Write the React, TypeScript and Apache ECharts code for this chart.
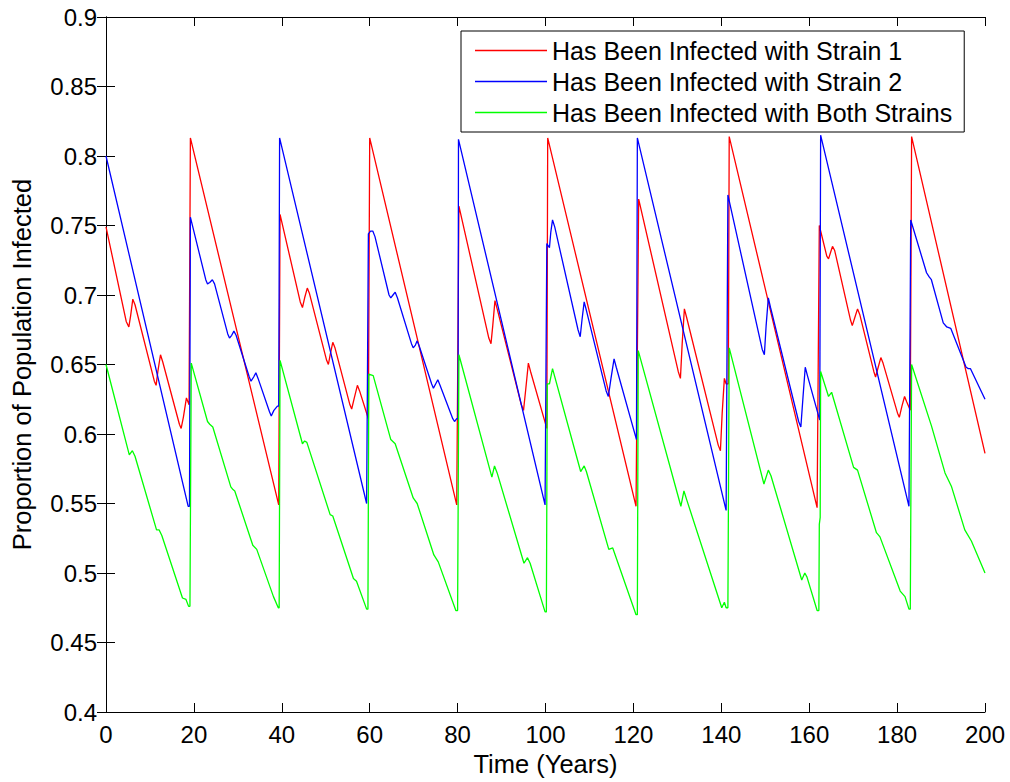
import React, { useEffect, useRef } from "react";
import * as echarts from "echarts";

const xTicks = { min: 0, max: 200, interval: 20 };
const yTicks = { min: 0.4, max: 0.9, interval: 0.05 };

const seriesNames = [
  "Has Been Infected with Strain 1",
  "Has Been Infected with Strain 2",
  "Has Been Infected with Both Strains",
];

const strain1: number[][] = [
  [0, 0.749], [4.6, 0.681], [5.2, 0.677], [5.6, 0.685], [6.1, 0.697], [6.6, 0.693],
  [11.0, 0.638], [11.4, 0.635], [11.8, 0.645], [12.4, 0.657], [12.9, 0.652],
  [16.7, 0.607], [17.1, 0.604], [17.6, 0.612], [18.3, 0.626], [18.9, 0.621],
  [19.2, 0.813], [39.3, 0.549], [39.6, 0.758],
  [44.2, 0.695], [44.7, 0.691], [45.2, 0.698], [45.8, 0.705], [46.3, 0.701],
  [50.2, 0.653], [50.6, 0.650], [51.0, 0.657], [51.6, 0.666], [52.1, 0.662],
  [55.5, 0.621], [55.9, 0.618], [56.5, 0.626], [57.2, 0.635], [57.7, 0.631],
  [59.7, 0.611], [60.0, 0.813], [79.8, 0.549], [80.3, 0.764],
  [87.1, 0.669], [87.6, 0.665], [88.0, 0.678], [88.5, 0.696], [89.0, 0.690],
  [94.5, 0.621], [95.0, 0.617], [95.5, 0.632], [96.1, 0.651], [96.6, 0.645],
  [100.3, 0.604], [100.5, 0.813], [120.6, 0.548], [121.2, 0.769],
  [130.2, 0.645], [130.7, 0.640], [131.1, 0.665], [131.6, 0.690], [132.1, 0.684],
  [139.3, 0.592], [139.8, 0.588], [140.2, 0.615], [140.7, 0.640], [141.1, 0.636],
  [141.6, 0.636], [141.8, 0.814], [161.8, 0.547], [162.3, 0.750],
  [164.0, 0.728], [164.4, 0.726], [164.8, 0.730], [165.3, 0.735], [165.8, 0.732],
  [169.4, 0.682], [169.8, 0.678], [170.4, 0.684], [171.0, 0.690], [171.5, 0.686],
  [174.7, 0.645], [175.1, 0.641], [175.7, 0.648], [176.3, 0.655], [176.8, 0.651],
  [180.1, 0.615], [180.5, 0.612], [181.1, 0.620], [181.7, 0.627], [182.2, 0.623],
  [183.0, 0.617], [183.3, 0.814], [200, 0.586],
];

const strain2: number[][] = [
  [0, 0.8], [18.7, 0.548], [19.0, 0.548], [19.2, 0.756],
  [22.7, 0.711], [23.1, 0.708], [23.6, 0.709], [24.2, 0.711], [24.7, 0.708],
  [27.7, 0.672], [28.1, 0.669], [28.6, 0.671], [29.1, 0.674], [29.6, 0.671],
  [32.6, 0.641], [33.0, 0.638], [33.6, 0.641], [34.1, 0.644], [34.6, 0.640],
  [37.2, 0.616], [37.6, 0.613], [38.2, 0.617], [39.0, 0.620], [39.3, 0.620],
  [39.5, 0.813], [59.3, 0.55], [59.7, 0.744], [60.2, 0.746], [60.7, 0.746], [61.2, 0.742],
  [64.4, 0.700], [64.8, 0.698], [65.3, 0.700], [65.8, 0.702], [66.3, 0.698],
  [69.5, 0.665], [69.9, 0.662], [70.4, 0.664], [70.8, 0.667], [71.3, 0.663],
  [74.1, 0.636], [74.5, 0.633], [75.0, 0.636], [75.5, 0.639], [76.0, 0.635],
  [78.9, 0.611], [79.3, 0.609], [79.8, 0.611], [80.1, 0.611], [80.2, 0.812],
  [99.9, 0.549], [100.3, 0.737], [100.9, 0.734], [101.2, 0.745], [101.6, 0.754], [102.1, 0.749],
  [107.4, 0.675], [107.9, 0.670], [108.3, 0.682], [108.8, 0.695], [109.3, 0.689],
  [113.8, 0.631], [114.3, 0.627], [114.9, 0.640], [115.6, 0.654], [116.1, 0.648],
  [120.7, 0.596], [120.9, 0.813], [141.1, 0.545], [141.5, 0.772],
  [149.3, 0.661], [149.8, 0.657], [150.2, 0.678], [150.7, 0.698], [151.2, 0.691],
  [157.6, 0.609], [158.1, 0.605], [158.6, 0.627], [159.1, 0.648], [159.6, 0.642],
  [162.4, 0.610], [162.6, 0.815], [182.7, 0.548], [183.1, 0.754],
  [186.7, 0.716], [187.3, 0.713], [187.8, 0.711], [190.5, 0.680], [191.3, 0.677],
  [192.2, 0.676], [195.7, 0.648], [196.2, 0.647], [196.7, 0.647], [200, 0.625],
];

const bothStrains: number[][] = [
  [0, 0.65], [5.3, 0.585], [6.0, 0.588], [6.6, 0.584], [11.5, 0.531], [12.1, 0.531],
  [12.7, 0.527], [17.4, 0.482], [18.2, 0.481], [18.8, 0.476], [19.1, 0.476], [19.4, 0.651],
  [23.1, 0.609], [23.6, 0.607], [24.3, 0.605], [28.4, 0.562], [28.9, 0.560], [29.3, 0.559],
  [33.4, 0.520], [34.3, 0.517], [38.1, 0.483], [39.2, 0.475], [39.4, 0.475], [39.6, 0.653],
  [44.7, 0.593], [45.2, 0.595], [45.7, 0.594], [51.0, 0.542], [51.6, 0.541],
  [56.3, 0.496], [57.0, 0.494], [59.3, 0.474], [59.6, 0.474], [59.8, 0.643], [60.8, 0.642],
  [64.8, 0.596], [65.8, 0.593], [69.9, 0.554], [70.8, 0.550], [74.6, 0.513], [75.6, 0.508],
  [79.6, 0.473], [80.0, 0.473], [80.3, 0.657], [87.8, 0.569], [88.4, 0.577], [89.0, 0.572],
  [95.1, 0.507], [95.9, 0.511], [96.5, 0.507], [99.9, 0.472], [100.2, 0.472],
  [100.4, 0.636], [100.9, 0.636], [101.6, 0.647], [108.0, 0.573], [108.8, 0.577],
  [109.3, 0.573], [114.4, 0.517], [115.3, 0.518], [120.6, 0.470], [120.9, 0.470],
  [121.1, 0.660], [130.8, 0.548], [131.5, 0.559], [132.1, 0.553], [140.1, 0.475],
  [140.7, 0.479], [141.1, 0.475], [141.5, 0.475], [141.8, 0.662], [149.7, 0.564],
  [150.7, 0.574], [151.3, 0.570], [158.3, 0.495], [159.0, 0.500], [159.5, 0.497],
  [161.8, 0.473], [162.2, 0.473], [162.3, 0.535], [162.5, 0.540], [162.6, 0.645],
  [164.4, 0.627], [165.1, 0.630], [170.1, 0.576], [171.0, 0.574], [175.3, 0.529],
  [176.1, 0.526], [180.7, 0.487], [181.8, 0.483], [182.7, 0.474], [183.0, 0.474],
  [183.3, 0.650], [187.8, 0.606], [190.9, 0.572], [192.4, 0.562], [195.4, 0.531],
  [196.9, 0.523], [200, 0.5],
];

const seriesData = [strain1, strain2, bothStrains];
const colors = ["#ff0000", "#0000ff", "#00ff00"];
const FONT = "'Liberation Sans', Arial, Helvetica, sans-serif";

export default function App() {
  const ref = useRef<HTMLDivElement>(null);
  useEffect(() => {
    if (!ref.current) return;
    const chart = echarts.init(ref.current, null, { renderer: "svg" });
    const axisCommon = {
      type: "value" as const,
      axisLine: { show: true, lineStyle: { color: "#000", width: 1 } },
      axisTick: { show: true, inside: true, length: 9, lineStyle: { color: "#000", width: 1 } },
      splitLine: { show: false },
    };
    chart.setOption({
      animation: false,
      backgroundColor: "#fff",
      textStyle: { fontFamily: FONT },
      grid: { left: 106, right: 25, top: 17, bottom: 70, containLabel: false },
      legend: {
        data: seriesNames,
        orient: "vertical",
        left: 461,
        top: 31,
        icon: "rect",
        itemWidth: 72,
        itemHeight: 1.5,
        itemGap: 0,
        padding: [4, 12, 4, 14],
        borderColor: "#000",
        borderWidth: 1,
        backgroundColor: "#fff",
        textStyle: { fontSize: 25, lineHeight: 31, color: "#000", fontFamily: FONT },
      },
      xAxis: [
        {
          ...axisCommon,
          position: "bottom",
          min: xTicks.min,
          max: xTicks.max,
          interval: xTicks.interval,
          name: "Time (Years)",
          nameLocation: "middle",
          nameGap: 35,
          nameTextStyle: { fontSize: 25.5, color: "#000", fontFamily: FONT },
          axisLabel: { fontSize: 24, color: "#000", margin: 10, fontFamily: FONT },
        },
        {
          ...axisCommon,
          position: "top",
          min: xTicks.min,
          max: xTicks.max,
          interval: xTicks.interval,
          axisLabel: { show: false },
        },
      ],
      yAxis: [
        {
          ...axisCommon,
          position: "left",
          min: yTicks.min,
          max: yTicks.max,
          interval: yTicks.interval,
          name: "Proportion of Population Infected",
          nameLocation: "middle",
          nameGap: 71,
          nameTextStyle: { fontSize: 25.5, color: "#000", fontFamily: FONT },
          axisLabel: { fontSize: 24, color: "#000", margin: 9, fontFamily: FONT },
        },
        {
          ...axisCommon,
          position: "right",
          min: yTicks.min,
          max: yTicks.max,
          interval: yTicks.interval,
          axisLabel: { show: false },
        },
      ],
      series: seriesData.map((d, i) => ({
        name: seriesNames[i],
        type: "line",
        data: d,
        xAxisIndex: 0,
        yAxisIndex: 0,
        showSymbol: false,
        symbol: "none",
        color: colors[i],
        lineStyle: { color: colors[i], width: 1.3 },
        itemStyle: { color: colors[i] },
      })),
    });
    return () => chart.dispose();
  }, []);
  return (
    <div
      ref={ref}
      style={{ position: "fixed", left: 0, top: 0, width: 1010, height: 782 }}
    />
  );
}
